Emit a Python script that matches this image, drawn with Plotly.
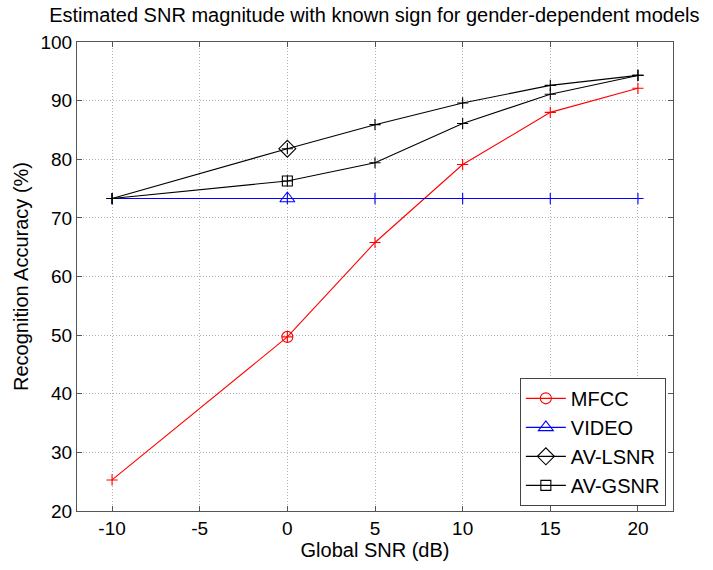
import plotly.graph_objects as go

snr = [-10, 0, 5, 10, 15, 20]
mfcc = [25.3, 49.7, 65.8, 79.1, 88.0, 92.1]
video = [73.3, 73.3, 73.3, 73.3, 73.3, 73.3]
av_lsnr = [73.3, 81.8, 85.9, 89.6, 92.6, 94.3]
av_gsnr = [73.3, 76.3, 79.4, 86.1, 91.1, 94.3]

series_names = ["MFCC", "VIDEO", "AV-LSNR", "AV-GSNR"]
series_vals = [mfcc, video, av_lsnr, av_gsnr]
colors = ["#ff0000", "#0000ff", "#000000", "#000000"]
symbols = ["circle-open", "triangle-up-open", "diamond-open", "square-open"]
sym_sizes = [11, 13, 13, 10]
marker_x = 0  # SNR at which the legend marker is drawn

x_ticks = [-10, -5, 0, 5, 10, 15, 20]
x_ticklabels = ["-10", "-5", "0", "5", "10", "15", "20"]
y_ticks = [20, 30, 40, 50, 60, 70, 80, 90, 100]

FONT = "Liberation Sans, Arial, Helvetica, sans-serif"

fig = go.Figure()

# lines with '+' markers at every point
for name, vals, c in zip(series_names, series_vals, colors):
    fig.add_trace(go.Scatter(
        x=snr, y=vals, mode="lines+markers", showlegend=False,
        line=dict(color=c, width=1.1),
        marker=dict(symbol="cross-thin-open", size=8, color=c,
                    line=dict(color=c, width=1.1)),
        hoverinfo="skip",
    ))

# one symbol marker per series at x=0 (also used for the legend)
for name, vals, c, s, sz in zip(series_names, series_vals, colors, symbols, sym_sizes):
    idx = snr.index(marker_x)
    fig.add_trace(go.Scatter(
        x=[snr[idx]], y=[vals[idx]], mode="lines+markers", name=name,
        line=dict(color=c, width=1.1),
        marker=dict(symbol=s, size=sz, color=c, line=dict(color=c, width=1.1)),
    ))

axis_common = dict(
    showline=True, linecolor="#555555", linewidth=1, mirror="ticks",
    ticks="inside", ticklen=5, tickcolor="#555555",
    showgrid=True, gridcolor="#b4b4b4", griddash="1px,2px", gridwidth=1,
    zeroline=False,
    tickfont=dict(family=FONT, size=19, color="#000000"),
    title_font=dict(family=FONT, size=20, color="#000000"),
)

fig.update_layout(
    width=713, height=570,
    margin=dict(l=77, r=40, t=42, b=59),
    paper_bgcolor="white", plot_bgcolor="white",
    font=dict(family=FONT, size=19, color="#000000"),
    title=dict(text="Estimated SNR magnitude with known sign for gender-dependent models",
               x=0.525, xanchor="center", y=0.974, yanchor="middle",
               font=dict(family=FONT, size=20, color="#000000")),
    xaxis=dict(range=[-12, 22], tickvals=x_ticks, ticktext=x_ticklabels,
               title=dict(text="Global SNR (dB)", standoff=4), **axis_common),
    yaxis=dict(range=[20, 100], tickvals=y_ticks,
               title=dict(text="Recognition Accuracy (%)", standoff=6), **axis_common),
    legend=dict(x=0.988, xanchor="right", y=0.011, yanchor="bottom",
                bgcolor="white", bordercolor="#444444", borderwidth=1,
                font=dict(family=FONT, size=20, color="#000000"),
                itemwidth=40, tracegroupgap=0),
)

fig.write_html("out.html")
